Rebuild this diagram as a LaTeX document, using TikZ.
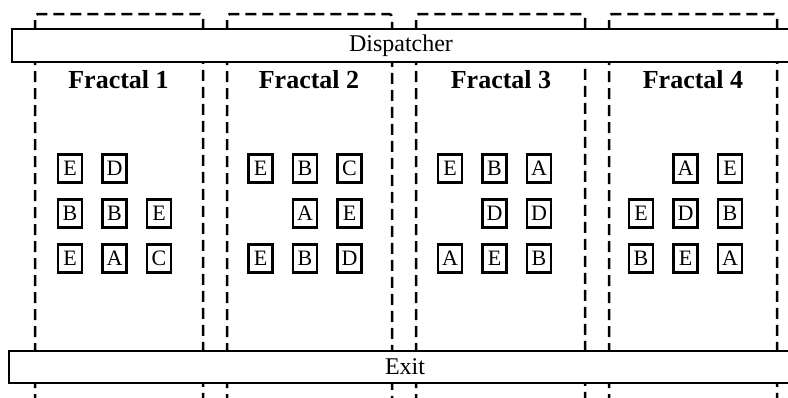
\documentclass[tikz,border=0pt]{standalone}
\usepackage{fontspec}
\setmainfont{Liberation Serif}
\begin{document}
\begin{tikzpicture}[x=1pt,y=-1pt,
  colline/.style={line width=2.5pt, dash pattern=on 11pt off 6pt, rounded corners=3pt},
  bar/.style={draw, line width=2.2pt, fill=white, rectangle, inner sep=0pt, font=\fontsize{24}{26}\selectfont},
  letterbox/.style={draw, line width=2.2pt, rectangle, minimum width=24pt, minimum height=28pt, inner sep=0pt, font=\fontsize{22}{24}\selectfont},
  ftitle/.style={font=\bfseries\fontsize{26}{28}\selectfont, inner sep=0pt}]
\useasboundingbox (0,0) rectangle (788,397);
\clip (0,0) rectangle (788,397);
% dashed fractal columns
\foreach \i/\l/\r in {1/35/203, 2/227/392, 3/416/585, 4/609/777} {
  \coordinate (c\i bl) at (\l,405);
  \coordinate (c\i br) at (\r,405);
  \draw[colline] (c\i bl) -- (\l,14) -- (\r,14) -- (c\i br);
}
% bars
\node[bar, minimum width=778pt, minimum height=33pt] (dispatcher) at (401,45.5) {Dispatcher};
\node[bar, minimum width=792pt, minimum height=32pt] (exit) at (405,367) {Exit};
% titles
\node[ftitle] (t1) at (118.5,80) {Fractal 1};
\node[ftitle] (t2) at (309,80) {Fractal 2};
\node[ftitle] (t3) at (501,80) {Fractal 3};
\node[ftitle] (t4) at (693,80) {Fractal 4};
% letter boxes
\foreach \f/\x in {1/70, 2/260.5, 3/450, 4/641} {
  \coordinate (g\f) at (\x,0);
}
\foreach \f/\r/\c/\t in {
  1/1/1/E, 1/1/2/D,
  1/2/1/B, 1/2/2/B, 1/2/3/E,
  1/3/1/E, 1/3/2/A, 1/3/3/C,
  2/1/1/E, 2/1/2/B, 2/1/3/C,
  2/2/2/A, 2/2/3/E,
  2/3/1/E, 2/3/2/B, 2/3/3/D,
  3/1/1/E, 3/1/2/B, 3/1/3/A,
  3/2/2/D, 3/2/3/D,
  3/3/1/A, 3/3/2/E, 3/3/3/B,
  4/1/2/A, 4/1/3/E,
  4/2/1/E, 4/2/2/D, 4/2/3/B,
  4/3/1/B, 4/3/2/E, 4/3/3/A} {
  \node[letterbox] (b\f\r\c) at ([xshift={(\c-1)*44.5pt}, yshift={-(168.5+(\r-1)*45)*1pt}]g\f) {\t};
}
\end{tikzpicture}
\end{document}
